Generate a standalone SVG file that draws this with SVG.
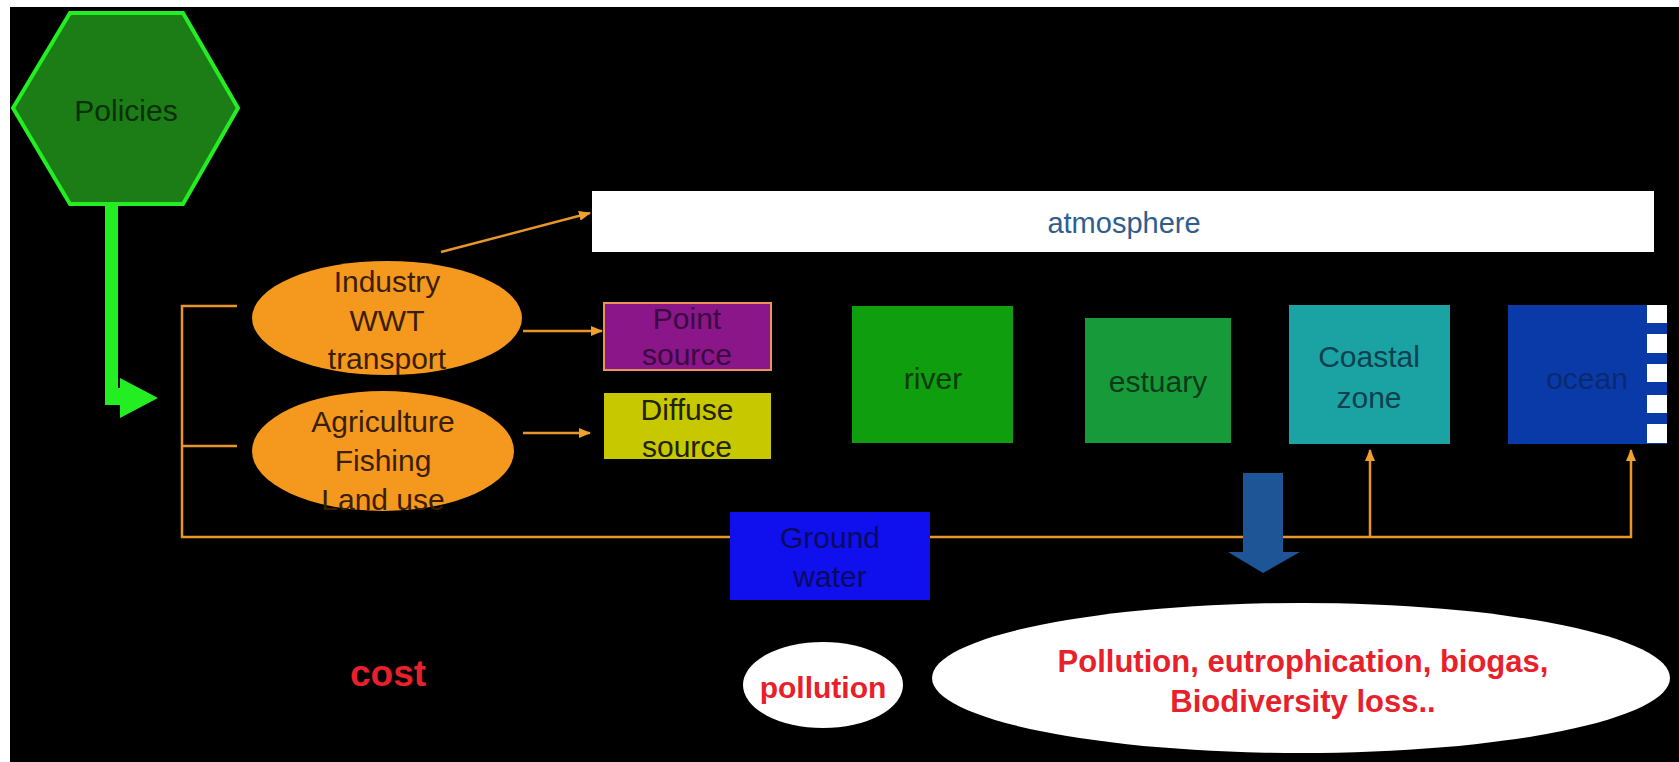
<svg xmlns="http://www.w3.org/2000/svg" width="1679" height="762" viewBox="0 0 1679 762">
<defs>
<marker id="ah" viewBox="0 0 12 10" refX="11" refY="5" markerWidth="12" markerHeight="10" markerUnits="userSpaceOnUse" orient="auto">
<path d="M0,0 L12,5 L0,10 Z" fill="#F0A030"/>
</marker>
</defs>
<style>
.t{font-family:"Liberation Sans",Arial,sans-serif;font-size:30px;text-anchor:middle}
.b{font-family:"Liberation Sans",Arial,sans-serif;font-weight:bold;text-anchor:middle;fill:#E8202A}
.ln{fill:none;stroke:#E8962A;stroke-width:2.5}
</style>
<rect x="0" y="0" width="1679" height="762" fill="#ffffff"/>
<rect x="10" y="7" width="1669" height="755" fill="#000000"/>

<g id="connectors">
<path class="ln" d="M237,306 H182 V537 H1631 V450" marker-end="url(#ah)"/>
<path class="ln" d="M182,446 H237"/>
<path class="ln" d="M1370,537 V450" marker-end="url(#ah)"/>
<path class="ln" d="M441,252 L590,213" marker-end="url(#ah)"/>
<path class="ln" d="M523,331 H602" marker-end="url(#ah)"/>
<path class="ln" d="M523,433 H590" marker-end="url(#ah)"/>
<path d="M105,204 H118 V388 H120 V378 L158,398 L120,418 V405 H105 Z" fill="#22EE22"/>
</g>

<g id="policies">
<polygon points="13,108 70,13 183,13 238,108 183,204 70,204" fill="#1C7C16" stroke="#22EE22" stroke-width="4"/>
<text class="t" x="126" y="121" fill="#0A300A">Policies</text>
</g>

<g id="atmosphere">
<rect x="592" y="191" width="1062" height="61" fill="#ffffff"/>
<text class="t" x="1124" y="233" fill="#2E5E8E" style="font-size:29px">atmosphere</text>
</g>

<g id="industry">
<ellipse cx="387" cy="318" rx="135" ry="57" fill="#F5981E"/>
<text class="t" x="387" y="292" fill="#3A1E00">Industry</text>
<text class="t" x="387" y="331" fill="#3A1E00">WWT</text>
<text class="t" x="387" y="369" fill="#3A1E00">transport</text>
</g>

<g id="agriculture">
<ellipse cx="383" cy="451" rx="131" ry="60" fill="#F5981E"/>
<text class="t" x="383" y="432" fill="#3A1E00">Agriculture</text>
<text class="t" x="383" y="471" fill="#3A1E00">Fishing</text>
<text class="t" x="383" y="510" fill="#3A1E00">Land use</text>
</g>

<g id="point-source">
<rect x="604" y="303" width="167" height="67" fill="#8A168A" stroke="#E8955A" stroke-width="2"/>
<text class="t" x="687" y="329" fill="#3A0A40">Point</text>
<text class="t" x="687" y="365" fill="#3A0A40">source</text>
</g>

<g id="diffuse-source">
<rect x="604" y="393" width="167" height="66" fill="#C8C800"/>
<text class="t" x="687" y="420" fill="#222200">Diffuse</text>
<text class="t" x="687" y="457" fill="#222200">source</text>
</g>

<g id="river">
<rect x="852" y="306" width="161" height="137" fill="#0E9E0E"/>
<text class="t" x="933" y="389" fill="#0A3A0A">river</text>
</g>

<g id="estuary">
<rect x="1085" y="318" width="146" height="125" fill="#179A3A"/>
<text class="t" x="1158" y="392" fill="#0A3A1A">estuary</text>
</g>

<g id="coastal-zone">
<rect x="1289" y="305" width="161" height="139" fill="#1BA3A3"/>
<text class="t" x="1369" y="367" fill="#0D4050">Coastal</text>
<text class="t" x="1369" y="408" fill="#0D4050">zone</text>
</g>

<g id="ocean">
<rect x="1508" y="305" width="159" height="139" fill="#0A3AA8"/>
<rect x="1647" y="305" width="20" height="18" fill="#ffffff"/>
<rect x="1647" y="334" width="20" height="19" fill="#ffffff"/>
<rect x="1647" y="364" width="20" height="18" fill="#ffffff"/>
<rect x="1647" y="395" width="20" height="18" fill="#ffffff"/>
<rect x="1647" y="424" width="20" height="19" fill="#ffffff"/>
<text class="t" x="1587" y="389" fill="#0A2A70">ocean</text>
</g>

<g id="ground-water">
<rect x="730" y="512" width="200" height="88" fill="#1010EE"/>
<text class="t" x="830" y="548" fill="#0A0A60">Ground</text>
<text class="t" x="830" y="587" fill="#0A0A60">water</text>
</g>

<g id="impact-arrow">
<polygon points="1243,473 1283,473 1283,552 1300,552 1263,573 1228,552 1243,552" fill="#1D5597"/>
</g>

<g id="cost">
<text class="b" x="388" y="686" style="font-size:37px">cost</text>
</g>

<g id="pollution">
<ellipse cx="823" cy="685" rx="80" ry="43" fill="#ffffff"/>
<text class="b" x="823" y="698" style="font-size:30px">pollution</text>
</g>

<g id="impacts">
<ellipse cx="1301" cy="678" rx="369" ry="75" fill="#ffffff"/>
<text class="b" x="1303" y="672" style="font-size:31px">Pollution, eutrophication, biogas,</text>
<text class="b" x="1303" y="712" style="font-size:31px">Biodiversity loss..</text>
</g>
</svg>
